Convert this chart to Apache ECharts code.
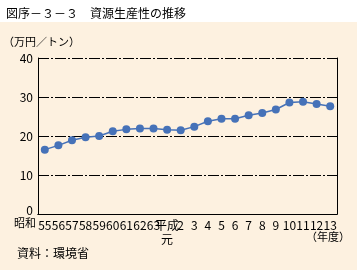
<!DOCTYPE html>
<html>
<head>
<meta charset="utf-8">
<script src="https://cdn.jsdelivr.net/npm/echarts@6/dist/echarts.min.js"></script>
<style>
html,body{margin:0;padding:0;background:#fff;}
#chart{width:357px;height:270px;}
</style>
</head>
<body>
<div id="chart"></div>
<script>
// 年度
var years = ['55', '56', '57', '58', '59', '60', '61', '62', '63', '平成\n元',
    '2', '3', '4', '5', '6', '7', '8', '9', '10', '11', '12', '13'];
// 資源生産性（万円／トン）
var values = [16.5, 17.6, 18.9, 19.7, 20.0, 21.2, 21.7, 21.9, 21.9, 21.6,
    21.45, 22.4, 23.8, 24.4, 24.4, 25.3, 25.9, 26.8, 28.6, 28.8, 28.2, 27.6];
var yTicks = [0, 10, 20, 30, 40];

var font = '"Noto Sans CJK JP", sans-serif';
var chart = echarts.init(document.getElementById('chart'));

var option = {
    backgroundColor: '#fdf1e0',
    animation: false,
    title: {
        text: '図序－３－３　資源生産性の推移',
        left: 1,
        top: 2,
        textStyle: {fontSize: 12, fontWeight: 'normal', color: '#000', fontFamily: font}
    },
    graphic: [
        {type: 'rect', z: -1, shape: {x: 0, y: 0, width: 357, height: 22}, style: {fill: '#fff'}},
        {type: 'text', left: 3, top: 36, style: {text: '（万円／トン）', fontSize: 11, fill: '#000', fontFamily: font}},
        {type: 'text', left: 14, top: 217, style: {text: '昭和', fontSize: 11, fill: '#000', fontFamily: font}},
        {type: 'text', left: 306, top: 231, style: {text: '（年度）', fontSize: 11, fill: '#000', fontFamily: font}},
        {type: 'text', left: 17, top: 247, style: {text: '資料：環境省', fontSize: 12, fill: '#000', fontFamily: font}}
    ],
    grid: {left: 38, right: 20, top: 58, bottom: 56},
    xAxis: [{
        type: 'category',
        data: years,
        boundaryGap: true,
        axisLine: {lineStyle: {color: '#000', width: 1}},
        axisTick: {inside: true, length: 4, alignWithLabel: true, lineStyle: {color: '#000'}},
        axisLabel: {interval: 0, color: '#000', fontSize: 12, margin: 4, fontFamily: font, lineHeight: 14}
    }, {
        type: 'category',
        position: 'top',
        data: years,
        axisLine: {lineStyle: {color: '#000', width: 1}},
        axisTick: {show: false},
        axisLabel: {show: false}
    }],
    yAxis: [{
        type: 'value',
        min: 0,
        max: 40,
        interval: 10,
        axisLine: {show: true, lineStyle: {color: '#000'}},
        axisTick: {show: false},
        axisLabel: {
            color: '#000', fontSize: 12, margin: 5, fontFamily: font,
            formatter: function (v) {
                if (yTicks.indexOf(v) < 0) return '';
                return v === 0 ? '{z|0}' : String(v);
            },
            rich: {z: {fontSize: 12, color: '#000', fontFamily: font, padding: [0, 0, 8, 0]}}
        },
        splitLine: {lineStyle: {color: '#000', width: 1, type: [11, 2, 2, 2]}}
    }, {
        type: 'value',
        position: 'right',
        min: 0,
        max: 40,
        interval: 10,
        axisLine: {show: true, lineStyle: {color: '#000'}},
        axisTick: {show: false},
        axisLabel: {show: false},
        splitLine: {show: false}
    }],
    series: [{
        type: 'line',
        data: values,
        symbol: 'circle',
        symbolSize: 8,
        itemStyle: {color: '#4672b8'},
        lineStyle: {color: '#4672b8', width: 1.5}
    }]
};
chart.setOption(option);
</script>
</body>
</html>
